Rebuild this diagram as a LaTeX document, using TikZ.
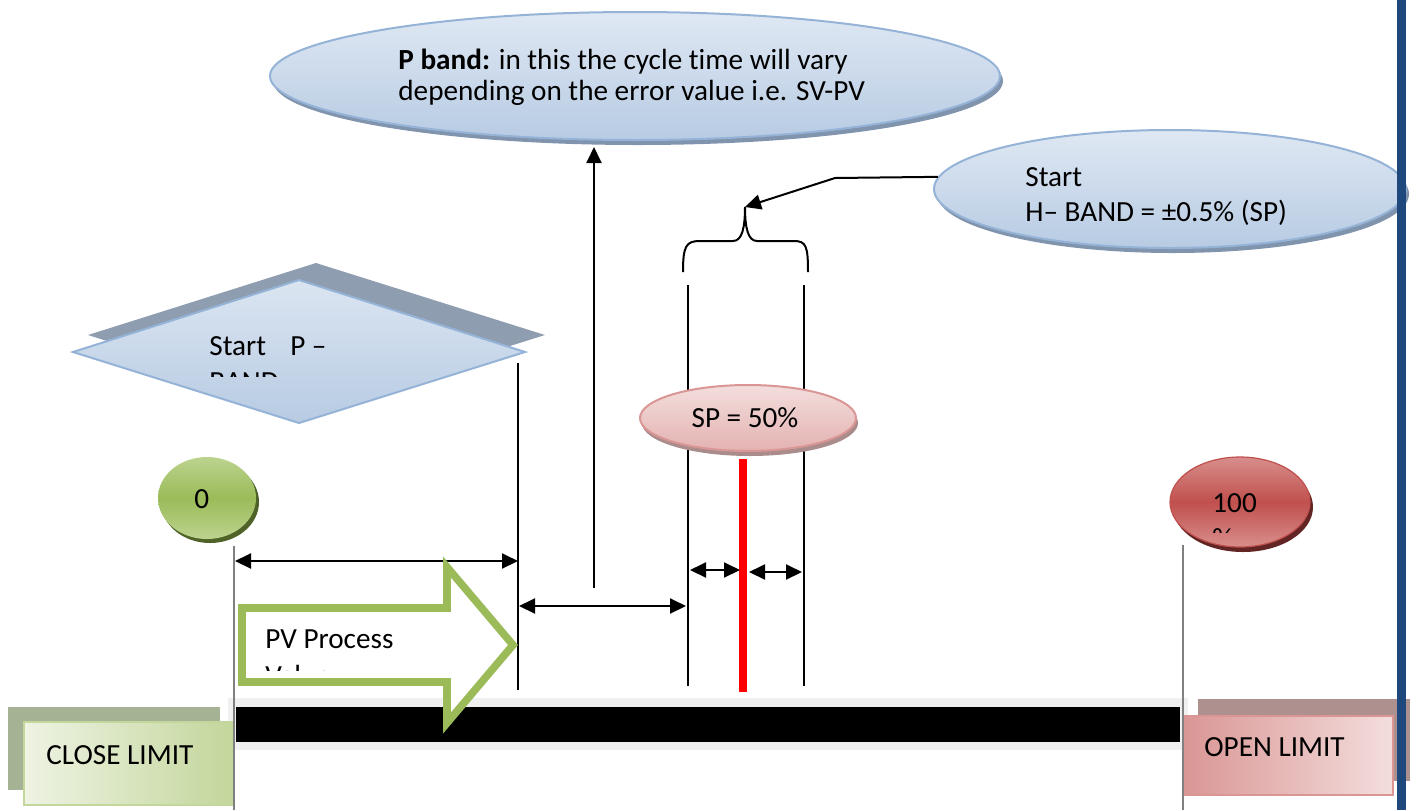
\documentclass[tikz,border=0pt]{standalone}
\usepackage{fontspec}
\setmainfont{Carlito}[Ligatures=NoCommon]
\usetikzlibrary{shapes.geometric,arrows.meta,shadows}
\definecolor{bluetop}{HTML}{DFE8F3}
\definecolor{bluebot}{HTML}{B7CBE3}
\definecolor{blueedge}{HTML}{95B3D7}
\definecolor{blueshadow}{HTML}{8194AE}
\definecolor{pinktop}{HTML}{F3DEDD}
\definecolor{pinkbot}{HTML}{E3B2B1}
\definecolor{pinkedge}{HTML}{D99694}
\definecolor{pinkshadow}{HTML}{A98C8B}
\definecolor{grn}{HTML}{9BBB59}
\definecolor{grnlight}{HTML}{BCD38E}
\definecolor{grndark}{HTML}{4F6228}
\definecolor{redc}{HTML}{C0504D}
\definecolor{redlight}{HTML}{D88E8C}
\definecolor{reddark}{HTML}{632523}
\definecolor{navy}{HTML}{1F497D}
\definecolor{closeshadow}{HTML}{A5B294}
\definecolor{closeedge}{HTML}{C3D69B}
\definecolor{greenpale}{HTML}{EEF3E3}
\definecolor{openshadow}{HTML}{AE908F}
\definecolor{halo}{HTML}{F0F0F0}
\definecolor{diashadow}{HTML}{8F9DB0}
\tikzset{
  txt/.style={font=\fontsize{14.6}{17}\selectfont, inner sep=0pt, anchor=base west},
  blueell/.style={ellipse, draw=blueedge, line width=1pt, top color=bluetop, bottom color=bluebot, inner sep=0pt,
    drop shadow={shadow xshift=1.5pt, shadow yshift=-2.5pt, fill=blueshadow, opacity=1}},
  pinkell/.style={ellipse, draw=pinkedge, line width=1pt, top color=pinktop, bottom color=pinkbot, inner sep=0pt,
    drop shadow={shadow xshift=1pt, shadow yshift=-2.5pt, fill=pinkshadow, opacity=1}},
  greenball/.style={ellipse, top color=grnlight, bottom color=grnlight, middle color=grn, inner sep=0pt,
    drop shadow={shadow xshift=1.5pt, shadow yshift=-2pt, fill=grndark, opacity=1}},
  redball/.style={ellipse, draw=redc, line width=0.6pt, top color=redlight, bottom color=redlight, middle color=redc, inner sep=0pt,
    drop shadow={shadow xshift=1.5pt, shadow yshift=-2.5pt, fill=reddark, opacity=1}},
  conn/.style={line width=1pt, draw=black},
  tipA/.tip={Triangle[length=8pt,width=7.5pt]},
  arr/.style={conn, -tipA},
  darr/.style={conn, tipA-tipA},
  gline/.style={line width=0.8pt, draw=gray},
}
\begin{document}
\begin{tikzpicture}[x=0.5pt,y=-0.5pt]
\useasboundingbox (0,0) rectangle (1420,810);

% top ellipse
\node[blueell, minimum width=365pt, minimum height=64pt] (pband) at (635,76) {};
\node[txt] (pbt1) at (398,69) {\textbf{P band:} in this the cycle time will vary};
\node[txt] (pbt2) at (398,100) {depending on the error value i.e. SV-PV};

% right ellipse
\node[blueell, minimum width=236pt, minimum height=59pt] (hband) at (1170,189) {};
\node[txt] (hbt1) at (1025,186) {Start};
\node[txt] (hbt2) at (1025,221) {H– BAND = ±0.5\% (SP)};

% right blue bar
\fill[navy] (1397,0) rectangle (1406,810);

% diamond
\fill[diashadow] (316,263) -- (545,335) -- (316,407) -- (88,335) -- cycle;
\draw[blueedge, line width=1pt, top color=bluetop!90!bluebot, bottom color=bluebot] (299,280) -- (525,352) -- (299,423) -- (73,352) -- cycle;
\node[txt] (pbandstart) at (209,355) {Start\hspace{0.6em} P –};
\begin{scope}
  \clip (150,300) rectangle (500,376);
  \node[txt] (pbandband) at (209,391) {BAND};
\end{scope}

% vertical P-band boundary
\coordinate (pbtop) at (518,363);
\coordinate (pbbot) at (518,690);
\draw[conn] (pbtop) -- (pbbot);

% H-band boundaries
\coordinate (hl1) at (688,285);
\coordinate (hl2) at (688,686);
\coordinate (hr1) at (804,285);
\coordinate (hr2) at (804,686);
\draw[conn] (hl1) -- (hl2);
\draw[conn] (hr1) -- (hr2);

% brace
\coordinate (bracetip) at (745,207);
\draw[conn] (683,272) .. controls (683,246) and (686,241) .. (700,241) -- (733,241)
  .. controls (742,241) and (745,228) .. (bracetip)
  .. controls (745,228) and (748,241) .. (757,241) -- (794,241)
  .. controls (806,241) and (808,246) .. (808,272);
\coordinate (hbk) at (835,178);
\draw[arr] (hband.177) -- (hbk) -- (bracetip);

% SP ellipse
\node[pinkell, minimum width=108pt, minimum height=33pt] (sp) at (748,418) {};
\node[font=\fontsize{14.6}{17}\selectfont, inner sep=0pt] (sptxt) at (745,418) {SP = 50\%};

% red set point line
\coordinate (rl1) at (743,459);
\coordinate (rl2) at (743,692);
\draw[red, line width=4pt] (rl1) -- (rl2);

% small double arrows
\coordinate (s1) at (690,570);
\coordinate (s2) at (740,570);
\coordinate (s3) at (749,572);
\coordinate (s4) at (802,572);
\draw[darr] (s1) -- (s2);
\draw[darr] (s3) -- (s4);

% arrow up to P band ellipse
\coordinate (up0) at (594,588);
\draw[arr, shorten >=3pt] (up0) -- (up0 |- pband.south);

% second double arrow
\coordinate (m1) at (519,606);
\coordinate (m2) at (686,606);
\draw[darr] (m1) -- (m2);

% black bar
\fill[halo] (228,698) rectangle (1188,750);
\fill[black] (236,707) rectangle (1180,742);

% close limit box
\fill[closeshadow] (8,707) rectangle (220,790);
\draw[closeedge, line width=1pt, shading=axis, shading angle=45, left color=greenpale, right color=closeedge] (24,722) rectangle (234,805);
\node[txt] (closetxt) at (46,764) {CLOSE LIMIT};

% open limit box
\fill[openshadow] (1198,699) rectangle (1410,781);
\draw[pinkedge, line width=1pt, shading=axis, shading angle=45, left color=pinkedge, right color=pinktop] (1183,716) rectangle (1393,795);
\node[txt] (opentxt) at (1204,756) {OPEN LIMIT};
\fill[navy] (1397,690) rectangle (1406,810);

% green circle 0
\node[greenball, minimum width=49pt, minimum height=41pt] (zero) at (207,498) {};
\node[txt] (zerotxt) at (194,508) {0};

% red circle 100
\node[redball, minimum width=70pt, minimum height=45pt] (hundred) at (1240,502) {};
\node[txt] (hundredtxt) at (1212,512) {100};
\begin{scope}
  \clip (1190,500) rectangle (1300,532);
  \node[txt] (pcttxt) at (1212,548) {\%};
\end{scope}

% gray limit lines
\coordinate (zl1) at (234,546);
\coordinate (zl2) at (234,810);
\coordinate (hl3) at (1183,545);
\coordinate (hl4) at (1183,810);
\draw[gline] (zl1) -- (zl2);
\draw[gline] (hl3) -- (hl4);

% first double arrow
\coordinate (a1) at (235,561);
\coordinate (a2) at (518,561);
\draw[darr] (a1) -- (a2);

% PV block arrow
\draw[grn, line width=3.8pt, fill=white, line join=miter] (242,608) -- (447,608) -- (447,567) -- (513,645) -- (447,723) -- (447,682) -- (242,682) -- cycle;
\node[txt] (pvtxt) at (265,648) {PV Process};
\begin{scope}
  \clip (250,600) rectangle (440,670);
  \node[txt] (valtxt) at (265,685) {Value};
\end{scope}
\end{tikzpicture}
\end{document}
